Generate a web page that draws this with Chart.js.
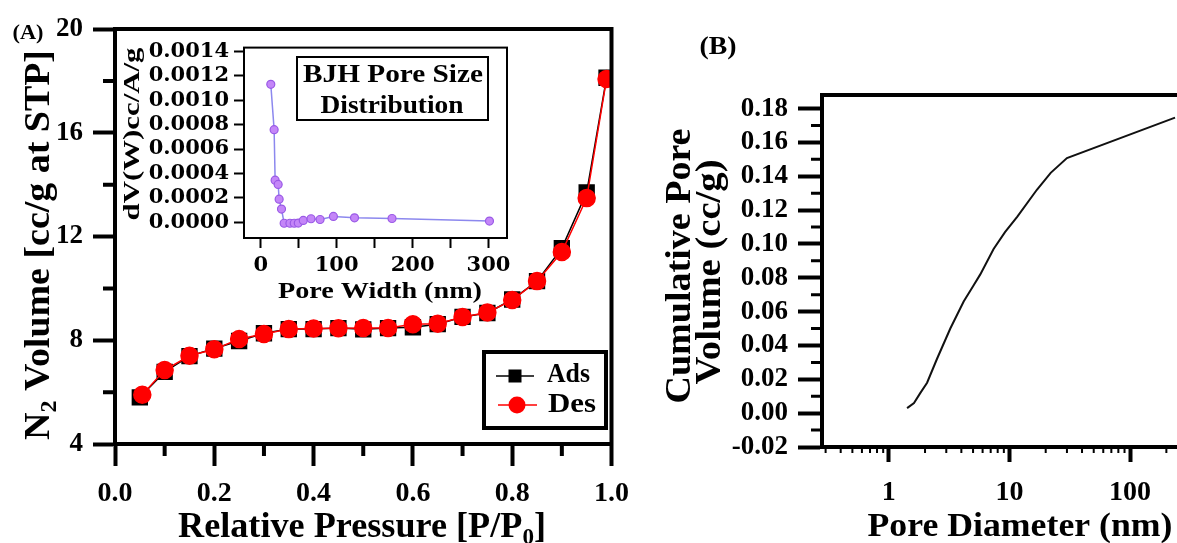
<!DOCTYPE html>
<html>
<head>
<meta charset="utf-8">
<script src="https://cdn.jsdelivr.net/npm/chart.js@4.4.0/dist/chart.umd.min.js"></script>
<style>
body { margin: 0; background: #fff; }
#wrap { position: relative; width: 1177px; height: 543px; overflow: hidden; background: #fff; }
canvas { position: absolute; }
</style>
</head>
<body>
<div id="wrap">
  <canvas id="chartA" width="640" height="543" style="left:0;top:0"></canvas>
  <canvas id="inset" width="410" height="280" style="left:110px;top:30px"></canvas>
  <canvas id="chartB" width="537" height="543" style="left:640px;top:0"></canvas>
</div>
<script>
// (A) N2 isotherm
var pressureAds = [0.05, 0.10, 0.15, 0.20, 0.25, 0.30, 0.35, 0.40, 0.45, 0.50, 0.55, 0.60, 0.65, 0.70, 0.75, 0.80, 0.85, 0.90, 0.95, 0.99];
var volumeAds   = [5.80, 6.78, 7.39, 7.68, 7.97, 8.27, 8.43, 8.43, 8.47, 8.42, 8.47, 8.50, 8.62, 8.90, 9.05, 9.57, 10.28, 11.55, 13.70, 18.12];
var pressureDes = [0.055, 0.10, 0.15, 0.20, 0.25, 0.30, 0.35, 0.40, 0.45, 0.50, 0.55, 0.60, 0.65, 0.70, 0.75, 0.80, 0.85, 0.90, 0.95, 0.99];
var volumeDes   = [5.90, 6.85, 7.40, 7.65, 8.05, 8.24, 8.43, 8.45, 8.46, 8.47, 8.47, 8.62, 8.64, 8.90, 9.07, 9.55, 10.28, 11.40, 13.48, 18.07];
var minorXA = [0.1, 0.3, 0.5, 0.7, 0.9];
var minorYA = [6, 10, 14, 18];

// inset: BJH pore size distribution
var poreWidth = [13.2, 17.6, 18.9, 22.9, 24.2, 27.3, 30.8, 38.4, 44.1, 49.4, 56.0, 66.2, 78.1, 95.7, 123.5, 172.9, 301.3];
var dVdW      = [0.001131, 0.000759, 0.000344, 0.000309, 0.000188, 0.000107, -0.000010, -0.000010, -0.000010, -0.000008, 0.000013, 0.000027, 0.000021, 0.000046, 0.000035, 0.000029, 0.000008];
var insetXTicks = [0, 50, 100, 150, 200, 250, 300];
var insetYTicks = [0, 0.0002, 0.0004, 0.0006, 0.0008, 0.0010, 0.0012, 0.0014];

// (B) cumulative pore volume
var poreDiameter = [1.42, 1.62, 1.83, 2.08, 2.51, 3.24, 4.18, 5.0, 5.74, 7.4, 9.2, 11.6, 16.9, 22, 30, 236];
var cumVolume    = [0.003, 0.006, 0.012, 0.018, 0.032, 0.050, 0.066, 0.075, 0.082, 0.097, 0.107, 0.116, 0.132, 0.142, 0.1507, 0.1746];
var xTicksB = [1, 10, 100];
var yTicksB = [-0.02, 0, 0.02, 0.04, 0.06, 0.08, 0.10, 0.12, 0.14, 0.16, 0.18];
var minorXB = [0.3, 0.4, 0.5, 0.6, 0.7, 0.8, 0.9, 2, 3, 4, 5, 6, 7, 8, 9, 20, 30, 40, 50, 60, 70, 80, 90, 200];
var minorYB = [-0.01, 0.01, 0.03, 0.05, 0.07, 0.09, 0.11, 0.13, 0.15, 0.17];

var SERIF = '"Liberation Serif", "Times New Roman", serif';

function pairs(xs, ys) {
  return xs.map(function (x, i) { return { x: x, y: ys[i] }; });
}

function bold(size) { return { family: SERIF, size: size, weight: 'bold' }; }

// text centred on (cx, cy), squeezed/stretched to a width, parts = [[text, isSub], ...]
function fitText(ctx, parts, cx, cy, size, width, rot) {
  var main = 'bold ' + size + 'px ' + SERIF;
  var sub = 'bold ' + Math.round(size * 0.65) + 'px ' + SERIF;
  ctx.save();
  ctx.translate(cx, cy);
  if (rot) ctx.rotate(rot);
  var total = 0;
  parts.forEach(function (p) { ctx.font = p[1] ? sub : main; total += ctx.measureText(p[0]).width; });
  if (width) ctx.scale(width / total, 1);
  ctx.fillStyle = '#000';
  ctx.textBaseline = 'middle';
  ctx.textAlign = 'left';
  var x = -total / 2;
  parts.forEach(function (p) {
    ctx.font = p[1] ? sub : main;
    ctx.fillText(p[0], x, p[1] ? size * 0.28 : 0);
    x += ctx.measureText(p[0]).width;
  });
  ctx.restore();
}

function minorTicks(chart, id, values, len, w) {
  var s = chart.scales[id], a = chart.chartArea, ctx = chart.ctx;
  ctx.save();
  ctx.strokeStyle = '#000';
  ctx.lineWidth = w;
  ctx.beginPath();
  values.forEach(function (v) {
    var p = s.getPixelForValue(v);
    if (s.isHorizontal()) { ctx.moveTo(p, a.bottom); ctx.lineTo(p, a.bottom + len); }
    else { ctx.moveTo(a.left, p); ctx.lineTo(a.left - len, p); }
  });
  ctx.stroke();
  ctx.restore();
}

function axisOpts(extra) {
  var o = {
    ticks: { color: '#000', font: bold(26), maxRotation: 0, autoSkip: false },
    grid: { drawOnChartArea: false, tickLength: 22, tickWidth: 4, tickColor: '#000' },
    border: { display: true, width: 4, color: '#000' }
  };
  for (var k in extra) {
    if (typeof extra[k] === 'object' && o[k]) Object.assign(o[k], extra[k]);
    else o[k] = extra[k];
  }
  return o;
}

// ---------- (A) ----------
new Chart(document.getElementById('chartA'), {
  type: 'scatter',
  data: {
    datasets: [{
      label: 'Ads',
      data: pairs(pressureAds, volumeAds),
      showLine: true,
      borderColor: '#000',
      borderWidth: 1.5,
      pointStyle: 'rect',
      pointRadius: 10.5,
      pointBackgroundColor: '#000',
      pointBorderColor: '#000',
      order: 2
    }, {
      label: 'Des',
      data: pairs(pressureDes, volumeDes),
      showLine: true,
      borderColor: '#ff0000',
      borderWidth: 1.5,
      pointStyle: 'circle',
      pointRadius: 8.5,
      pointBackgroundColor: '#ff0000',
      pointBorderColor: '#ff0000',
      order: 1
    }]
  },
  options: {
    responsive: false,
    animation: false,
    layout: { padding: { top: 29, right: 27, left: 0, bottom: 0 } },
    plugins: { legend: { display: false }, tooltip: { enabled: false } },
    scales: {
      x: axisOpts({
        type: 'linear', min: 0, max: 1,
        afterFit: function (s) { s.height = 99; },
        ticks: { stepSize: 0.2, padding: 11, font: bold(28), callback: function (v) { return v.toFixed(1); } }
      }),
      y: axisOpts({
        min: 4, max: 20,
        afterFit: function (s) { s.width = 115; },
        ticks: { stepSize: 4, padding: 10, font: bold(27) }
      })
    }
  },
  plugins: [{
    id: 'decorA',
    afterDraw: function (chart) {
      var ctx = chart.ctx, a = chart.chartArea;
      minorTicks(chart, 'x', minorXA, 12, 4);
      minorTicks(chart, 'y', minorYA, 12, 4);
      ctx.save();
      ctx.strokeStyle = '#000';
      ctx.lineWidth = 4;
      ctx.beginPath();
      ctx.moveTo(a.left - 2, a.top);
      ctx.lineTo(a.right, a.top);
      ctx.lineTo(a.right, a.bottom + 2);
      ctx.stroke();

      // legend
      ctx.strokeRect(484, 352, 122, 76);
      ctx.lineWidth = 1.5;
      ctx.beginPath(); ctx.moveTo(496, 376); ctx.lineTo(534, 376); ctx.stroke();
      ctx.fillStyle = '#000';
      ctx.fillRect(515 - 6.5, 376 - 6.5, 13, 13);
      ctx.strokeStyle = '#ff0000';
      ctx.beginPath(); ctx.moveTo(498, 405); ctx.lineTo(537, 405); ctx.stroke();
      ctx.fillStyle = '#ff0000';
      ctx.beginPath(); ctx.arc(517, 405, 8.5, 0, Math.PI * 2); ctx.fill();
      ctx.restore();
      fitText(ctx, [['Ads']], 568.5, 375, 28, 43);
      fitText(ctx, [['Des']], 572, 405, 28, 48);

      fitText(ctx, [['(A)']], 28, 33, 22, 31);
      fitText(ctx, [['N'], ['2', true], [' Volume [cc/g at STP]']], 40, 245, 36, 390, -Math.PI / 2);
      fitText(ctx, [['Relative Pressure [P/P'], ['0', true], [']']], 362, 528, 36, 368);
    }
  }]
});

// ---------- inset ----------
var insetTickFont = { family: '"DejaVu Serif", serif', size: 21, weight: 'bold' };
new Chart(document.getElementById('inset'), {
  type: 'scatter',
  data: {
    datasets: [{
      label: 'BJH',
      data: pairs(poreWidth, dVdW),
      showLine: true,
      borderColor: '#8c88ee',
      borderWidth: 1.5,
      pointRadius: 4,
      pointBackgroundColor: '#c486f8',
      pointBorderColor: '#9a5ae6',
      pointBorderWidth: 1.2
    }]
  },
  options: {
    responsive: false,
    animation: false,
    layout: { padding: { top: 17, right: 13, left: 0, bottom: 0 } },
    plugins: { legend: { display: false }, tooltip: { enabled: false } },
    scales: {
      x: {
        type: 'linear', min: -22.1, max: 324.4,
        afterFit: function (s) { s.height = 72; },
        afterBuildTicks: function (s) { s.ticks = insetXTicks.map(function (v) { return { value: v }; }); },
        ticks: { color: '#000', font: insetTickFont, padding: 5, maxRotation: 0, autoSkip: false,
                 callback: function (v) { return v % 100 === 0 ? String(v) : ''; } },
        grid: { drawOnChartArea: false, tickLength: 10, tickWidth: 2, tickColor: '#000' },
        border: { display: true, width: 2, color: '#000' }
      },
      y: {
        min: -0.000131, max: 0.001433,
        afterFit: function (s) { s.width = 134; },
        afterBuildTicks: function (s) { s.ticks = insetYTicks.map(function (v) { return { value: v }; }); },
        ticks: { color: '#000', font: insetTickFont, padding: 5, autoSkip: false,
                 callback: function (v) { return v.toFixed(4); } },
        grid: { drawOnChartArea: false, tickLength: 10, tickWidth: 2, tickColor: '#000' },
        border: { display: true, width: 2, color: '#000' }
      }
    }
  },
  plugins: [{
    id: 'decorInset',
    afterDraw: function (chart) {
      var ctx = chart.ctx, a = chart.chartArea;
      ctx.save();
      ctx.strokeStyle = '#000';
      ctx.lineWidth = 2;
      ctx.strokeRect(a.left, a.top, a.right - a.left, a.bottom - a.top);
      // title box (page coords minus canvas offset 110,30)
      ctx.strokeRect(297 - 110, 57 - 30, 191, 63);
      ctx.restore();
      fitText(ctx, [['BJH Pore Size']], 393 - 110, 76 - 30, 25, 180);
      fitText(ctx, [['Distribution']], 392 - 110, 107 - 30, 25, 143);
      fitText(ctx, [['dV(W)cc/A/g']], 133 - 110, 134 - 30, 24, 173, -Math.PI / 2);
      fitText(ctx, [['Pore Width (nm)']], 380 - 110, 292 - 30, 24, 204);
    }
  }]
});

// ---------- (B) ----------
new Chart(document.getElementById('chartB'), {
  type: 'scatter',
  data: {
    datasets: [{
      label: 'Cumulative',
      data: pairs(poreDiameter, cumVolume),
      showLine: true,
      borderColor: '#111',
      borderWidth: 2,
      pointRadius: 0,
      tension: 0
    }]
  },
  options: {
    responsive: false,
    animation: false,
    layout: { padding: { top: 95, right: 0, left: 0, bottom: 0 } },
    plugins: { legend: { display: false }, tooltip: { enabled: false } },
    scales: {
      x: axisOpts({
        type: 'logarithmic', min: 0.28, max: 245,
        afterFit: function (s) { s.height = 96; },
        afterBuildTicks: function (s) { s.ticks = xTicksB.map(function (v) { return { value: v }; }); },
        ticks: { padding: 14, font: bold(28), callback: function (v) { return String(v); } },
        grid: { tickLength: 15 }
      }),
      y: axisOpts({
        min: -0.02, max: 0.188,
        afterFit: function (s) { s.width = 182; },
        afterBuildTicks: function (s) { s.ticks = yTicksB.map(function (v) { return { value: v }; }); },
        ticks: { padding: 10, font: bold(27), callback: function (v) { return v.toFixed(2); } },
        grid: { tickLength: 24 }
      })
    }
  },
  plugins: [{
    id: 'decorB',
    afterDraw: function (chart) {
      var ctx = chart.ctx, a = chart.chartArea;
      minorTicks(chart, 'x', minorXB, 6, 2);
      minorTicks(chart, 'y', minorYB, 11, 3);
      ctx.save();
      ctx.strokeStyle = '#000';
      ctx.lineWidth = 4;
      ctx.beginPath();
      ctx.moveTo(a.left - 2, a.top);
      ctx.lineTo(a.right, a.top);
      ctx.stroke();
      ctx.restore();
      fitText(ctx, [['(B)']], 718 - 640, 48, 25, 37);
      fitText(ctx, [['Cumulative Pore']], 681 - 640, 266, 36, 275, -Math.PI / 2);
      fitText(ctx, [['Volume (cc/g)']], 711 - 640, 272, 36, 225, -Math.PI / 2);
      fitText(ctx, [['Pore Diameter (nm)']], 1020 - 640, 527, 34, 305);
    }
  }]
});
</script>
</body>
</html>
